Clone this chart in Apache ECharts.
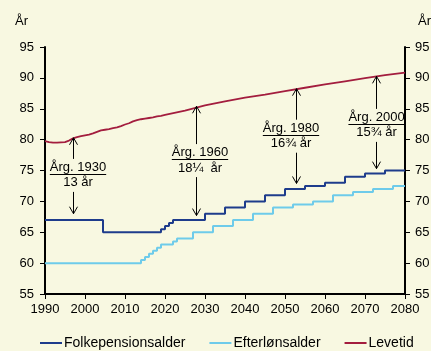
<!DOCTYPE html>
<html><head><meta charset="utf-8">
<script src="https://cdn.jsdelivr.net/npm/echarts@6/dist/echarts.min.js"></script>
<style>html,body{margin:0;padding:0;background:#F8F8E1}#c{width:431px;height:351px}</style>
</head><body><div id="c"></div>
<script>
// ---- data ----
const xTicks = [1990, 2000, 2010, 2020, 2030, 2040, 2050, 2060, 2070, 2080];
const yTicks = [55, 60, 65, 70, 75, 80, 85, 90, 95];
const seriesNames = ['Folkepensionsalder', 'Efterlønsalder', 'Levetid'];

const folkYears  = [1990, 2004.5, 2019, 2020, 2021, 2022, 2030, 2035, 2040, 2045, 2050, 2055, 2060, 2065, 2070, 2075, 2080];
const folkValues = [67,   65,     65.5, 66,   66.5, 67,   68,   69,   70,   71,   72,   72.5, 73,   74,   74.5, 75,   75];

const eftYears  = [1990, 2014, 2015, 2016, 2017, 2018, 2019, 2022, 2023, 2027, 2032, 2037, 2042, 2047, 2052, 2057, 2062, 2067, 2072, 2077, 2080];
const eftValues = [60,   60.5, 61,   61.5, 62,   62.5, 63,   63.5, 64,   65,   66,   67,   68,   69,   69.5, 70,   71,   71.5, 72,   72.5, 72.5];

const levYears  = [1990, 1991, 1992, 1993, 1994, 1995, 1996, 1997, 1998, 1999, 2000, 2001, 2002, 2003, 2004, 2005, 2006, 2007, 2008, 2009, 2010, 2011, 2012, 2013, 2014, 2015, 2016, 2017, 2018, 2019, 2020, 2025, 2030, 2035, 2040, 2045, 2050, 2055, 2060, 2065, 2070, 2075, 2080];
const levValues = [79.75,79.6, 79.5, 79.5, 79.55,79.6, 79.85,80.2, 80.4, 80.55,80.7, 80.8, 81.0, 81.25,81.5, 81.6, 81.7, 81.85,82.0, 82.2, 82.45,82.65,82.95,83.15,83.3, 83.4, 83.5, 83.6, 83.75,83.85,84.0, 84.7, 85.55,86.2, 86.8, 87.3, 87.85,88.4, 88.95,89.45,89.95,90.45,90.85];

// annotations (cohorts)
const annotTitles   = ['Årg. 1930', 'Årg. 1960', 'Årg. 1980', 'Årg. 2000'];
const annotSubs     = ['13 år', '18¼  år', '16¾ år', '15¾ år'];
const annotYears    = [1997.1, 2027.75, 2052.7, 2072.7];   // arrow positions
const annotTopVals  = [80.3, 85.4, 88.25, 90.25];         // arrow tip at Levetid
const annotBotVals  = [68.0, 67.7, 72.9, 75.3];           // arrow tip near Folkepensionsalder
const annotLabelX   = [1998.25, 2028.75, 2051.5, 2072.9]; // label centre (year)
const annotLabelY   = [75.5, 77.9, 81.85, 83.6];          // label first-line centre (value)

// ---- chart ----
const FONT = '"Liberation Sans", Arial, sans-serif';
const chart = echarts.init(document.getElementById('c'), null, {renderer: 'canvas'});
const zip = (a, b) => a.map((v, i) => [v, b[i]]);

const mctx = document.createElement('canvas').getContext('2d');
mctx.font = '13px ' + FONT;

function renderAnnot(params, api) {
  const i = params.dataIndex;
  const lp = api.coord([api.value(0), api.value(1)]);
  const top = api.coord([annotYears[i], annotTopVals[i]]);
  const bot = api.coord([annotYears[i], annotBotVals[i]]);
  const ax = Math.round(top[0]) + 0.5;
  const cx = lp[0], cy = lp[1];
  const w = mctx.measureText(annotTitles[i]).width;
  const uy = Math.round(cy + 6.5) + 0.5;
  const sub = cy + 15.5;
  const ls = {stroke: '#000', lineWidth: 1, fill: null};
  return {
    type: 'group',
    children: [
      {type: 'text', style: {text: annotTitles[i], x: cx, y: cy, align: 'center', verticalAlign: 'middle', font: '13px ' + FONT, fill: '#000'}},
      {type: 'line', shape: {x1: cx - w / 2, y1: uy, x2: cx + w / 2, y2: uy}, style: ls},
      {type: 'text', style: {text: annotSubs[i], x: cx, y: sub, align: 'center', verticalAlign: 'middle', font: '13px ' + FONT, fill: '#000'}},
      {type: 'line', shape: {x1: ax, y1: cy - 8.5, x2: ax, y2: top[1]}, style: ls},
      {type: 'polyline', shape: {points: [[ax - 4, top[1] + 7], [ax, top[1]], [ax + 4, top[1] + 7]]}, style: ls},
      {type: 'line', shape: {x1: ax, y1: sub + 9, x2: ax, y2: bot[1]}, style: ls},
      {type: 'polyline', shape: {points: [[ax - 4, bot[1] - 7], [ax, bot[1]], [ax + 4, bot[1] - 7]]}, style: ls}
    ]
  };
}

const axisCommon = {
  axisLine: {show: true, lineStyle: {color: '#000', width: 2}},
  axisTick: {show: true, inside: false, length: 5, lineStyle: {color: '#000', width: 1}},
  splitLine: {show: false},
  axisLabel: {color: '#000', fontSize: 13, fontFamily: FONT, formatter: v => String(v)}
};

chart.setOption({
  backgroundColor: '#F8F8E1',
  animation: false,
  textStyle: {fontFamily: FONT},
  grid: {left: 45, right: 26, top: 47, bottom: 57, containLabel: false, outerBoundsMode: 'none'},
  xAxis: Object.assign({}, axisCommon, {
    type: 'value', min: xTicks[0], max: xTicks[xTicks.length - 1], interval: 10,
    axisLabel: Object.assign({}, axisCommon.axisLabel, {margin: 9})
  }),
  yAxis: [
    Object.assign({}, axisCommon, {
      type: 'value', position: 'left', min: yTicks[0], max: yTicks[yTicks.length - 1], interval: 5,
      name: 'År', nameLocation: 'end', nameGap: 19,
      nameTextStyle: {color: '#000', fontSize: 13, fontFamily: FONT, align: 'right', padding: [0, 17, 0, 0]},
      axisLabel: Object.assign({}, axisCommon.axisLabel, {margin: 11})
    }),
    Object.assign({}, axisCommon, {
      type: 'value', position: 'right', min: yTicks[0], max: yTicks[yTicks.length - 1], interval: 5,
      name: 'År', nameLocation: 'end', nameGap: 19,
      nameTextStyle: {color: '#000', fontSize: 13, fontFamily: FONT, align: 'left', padding: [0, 0, 0, 13]},
      axisLabel: Object.assign({}, axisCommon.axisLabel, {margin: 10})
    })
  ],
  legend: {
    data: seriesNames, left: 40, top: 336, icon: 'rect', itemWidth: 22, itemHeight: 2, itemGap: 24, padding: 0,
    textStyle: {color: '#000', fontSize: 14, fontFamily: FONT, padding: [0, 0, 0, -3]}
  },
  series: [
    {name: seriesNames[0], type: 'line', step: 'end', symbol: 'none', data: zip(folkYears, folkValues),
     lineStyle: {color: '#1E3C8C', width: 2}, itemStyle: {color: '#1E3C8C'}, z: 3},
    {name: seriesNames[1], type: 'line', step: 'end', symbol: 'none', data: zip(eftYears, eftValues),
     lineStyle: {color: '#6ECBEA', width: 2}, itemStyle: {color: '#6ECBEA'}, z: 2},
    {name: seriesNames[2], type: 'line', symbol: 'none', data: zip(levYears, levValues),
     lineStyle: {color: '#A31D3E', width: 1.8}, itemStyle: {color: '#A31D3E'}, z: 3},
    {type: 'custom', renderItem: renderAnnot, data: zip(annotLabelX, annotLabelY), clip: false, z: 5, silent: true}
  ]
});
</script></body></html>
